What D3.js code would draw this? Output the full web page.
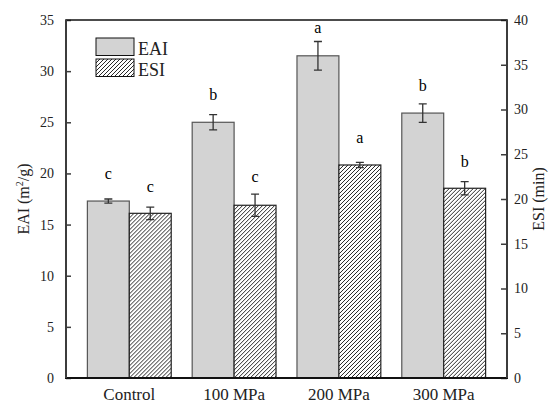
<!DOCTYPE html>
<html>
<head>
<meta charset="utf-8">
<script src="https://cdn.jsdelivr.net/npm/d3@7"></script>
<style>
  body { margin: 0; background: #fff; }
  svg { display: block; }
  svg text { font-family: "Liberation Serif", "Times New Roman", serif; }
</style>
</head>
<body>
<svg id="chart" width="558" height="403"></svg>
<script>
// --- Data ---------------------------------------------------------------
const categories = ['Control', '100 MPa', '200 MPa', '300 MPa'];
const eai = [17.3, 25.0, 31.5, 25.9];        // m2/g, left axis
const eaiErr = [0.2, 0.75, 1.4, 0.9];
const esi = [18.4, 19.3, 23.8, 21.2];        // min, right axis
const esiErr = [0.7, 1.25, 0.3, 0.75];
const eaiLetters = ['c', 'b', 'a', 'b'];
const esiLetters = ['c', 'c', 'a', 'b'];
// letter baselines, in each axis' own units
const eaiLetterAt = [19.45, 27.2, 33.7, 28.1];
const esiLetterAt = [20.8, 21.9, 26.3, 23.6];
const leftTicks = d3.range(0, 36, 5);
const rightTicks = d3.range(0, 41, 5);

// --- Layout -------------------------------------------------------------
const pl = 66, pr = 507, pt = 20, pb = 378;
const serif = '"Liberation Serif", "Times New Roman", serif';
const svg = d3.select('#chart');

const x0 = d3.scaleBand().domain(categories).range([pl, pr])
  .paddingInner(0.2).paddingOuter(0.204);
const x1 = d3.scaleBand().domain(['EAI', 'ESI']).range([0, x0.bandwidth()]);
const yL = d3.scaleLinear().domain([0, 35]).range([pb, pt]);
const yR = d3.scaleLinear().domain([0, 40]).range([pb, pt]);

// hatch pattern for ESI
svg.append('defs').append('pattern')
  .attr('id', 'hatch')
  .attr('patternUnits', 'userSpaceOnUse')
  .attr('width', 4).attr('height', 4)
  .call(p => p.append('rect').attr('width', 4).attr('height', 4).attr('fill', '#fff'))
  .append('path')
  .attr('d', 'M-1,1 l2,-2 M0,4 l4,-4 M3,5 l2,-2')
  .attr('stroke', '#111').attr('stroke-width', 0.9);

// --- Bars ---------------------------------------------------------------
const rows = categories.map((c, i) => ({
  c, eai: eai[i], eaiErr: eaiErr[i], esi: esi[i], esiErr: esiErr[i],
  eaiL: eaiLetters[i], esiL: esiLetters[i], eaiLy: eaiLetterAt[i], esiLy: esiLetterAt[i]
}));

const grp = svg.append('g').selectAll('g').data(rows).join('g')
  .attr('transform', d => `translate(${x0(d.c)},0)`);

grp.append('rect')
  .attr('x', x1('EAI')).attr('width', x1.bandwidth())
  .attr('y', d => yL(d.eai)).attr('height', d => yL(0) - yL(d.eai))
  .attr('fill', '#d3d3d3').attr('stroke', '#555').attr('stroke-width', 1.2);

grp.append('rect')
  .attr('x', x1('ESI')).attr('width', x1.bandwidth())
  .attr('y', d => yR(d.esi)).attr('height', d => yR(0) - yR(d.esi))
  .attr('fill', 'url(#hatch)').attr('stroke', '#222').attr('stroke-width', 1.2);

// error bars
function errBar(sel, cx, yTop, yBot) {
  const w = 4;
  sel.append('path')
    .attr('d', d => `M${cx - w},${yTop(d)}H${cx + w}M${cx},${yTop(d)}V${yBot(d)}M${cx - w},${yBot(d)}H${cx + w}`)
    .attr('fill', 'none').attr('stroke', '#333').attr('stroke-width', 1.3);
}
const cEAI = x1('EAI') + x1.bandwidth() / 2;
const cESI = x1('ESI') + x1.bandwidth() / 2;
errBar(grp, cEAI, d => yL(d.eai + d.eaiErr), d => yL(d.eai - d.eaiErr));
errBar(grp, cESI, d => yR(d.esi + d.esiErr), d => yR(d.esi - d.esiErr));

grp.append('text')
  .attr('x', cEAI).attr('y', d => yL(d.eaiLy))
  .attr('text-anchor', 'middle').attr('font-family', serif).attr('font-size', 16).text(d => d.eaiL);
grp.append('text')
  .attr('x', cESI).attr('y', d => yR(d.esiLy))
  .attr('text-anchor', 'middle').attr('font-family', serif).attr('font-size', 16).text(d => d.esiL);

// --- Axes ---------------------------------------------------------------
const axisColor = '#3c3c3c';

const gL = svg.append('g').attr('transform', `translate(${pl},0)`)
  .call(d3.axisLeft(yL).tickValues(leftTicks).tickSizeInner(-5).tickSizeOuter(0).tickPadding(12));
const gR = svg.append('g').attr('transform', `translate(${pr},0)`)
  .call(d3.axisRight(yR).tickValues(rightTicks).tickSizeInner(-6).tickSizeOuter(0).tickPadding(7));

[gL, gR].forEach(g => {
  g.attr('font-family', serif).attr('font-size', 14);
  g.select('.domain').remove();
  g.selectAll('.tick line').attr('stroke', axisColor).attr('stroke-width', 1.5);
  g.selectAll('.tick text').attr('font-family', serif).attr('font-size', 14).attr('fill', '#222');
});

// frame
svg.append('line').attr('x1', pl).attr('x2', pr).attr('y1', pt).attr('y2', pt)
  .attr('stroke', '#111').attr('stroke-width', 1.5);
svg.append('line').attr('x1', pl - 1).attr('x2', pr + 1).attr('y1', pb).attr('y2', pb)
  .attr('stroke', '#111').attr('stroke-width', 2);
svg.append('line').attr('x1', pl).attr('x2', pl).attr('y1', pt - 0.75).attr('y2', pb)
  .attr('stroke', axisColor).attr('stroke-width', 2);
svg.append('line').attr('x1', pr).attr('x2', pr).attr('y1', pt - 0.75).attr('y2', pb)
  .attr('stroke', axisColor).attr('stroke-width', 2);

// category labels
svg.append('g').selectAll('text').data(categories).join('text')
  .attr('x', d => x0(d) + x0.bandwidth() / 2).attr('y', 400)
  .attr('text-anchor', 'middle').attr('font-family', serif).attr('font-size', 17).attr('fill', '#222')
  .text(d => d);

// axis titles
const tL = svg.append('text')
  .attr('transform', `translate(29,${(pt + pb) / 2}) rotate(-90)`)
  .attr('text-anchor', 'middle').attr('font-family', serif).attr('font-size', 16).attr('fill', '#222');
tL.append('tspan').text('EAI (m');
tL.append('tspan').attr('font-size', 10).attr('dy', -6).text('2');
tL.append('tspan').attr('dy', 6).text('/g)');

svg.append('text')
  .attr('transform', `translate(544,${(pt + pb) / 2}) rotate(-90)`)
  .attr('text-anchor', 'middle').attr('font-family', serif).attr('font-size', 16).attr('fill', '#222')
  .text('ESI (min)');

// --- Legend -------------------------------------------------------------
const legend = svg.append('g').attr('transform', 'translate(96,38)');
const legItems = [{ k: 'EAI', fill: '#d3d3d3' }, { k: 'ESI', fill: 'url(#hatch)' }];
const li = legend.selectAll('g').data(legItems).join('g')
  .attr('transform', (d, i) => `translate(0,${i * 21})`);
li.append('rect').attr('width', 38).attr('height', 17.5)
  .attr('fill', d => d.fill).attr('stroke', '#111').attr('stroke-width', 1);
li.append('text').attr('x', 42).attr('y', 16.5).attr('font-family', serif).attr('font-size', 18).attr('fill', '#222')
  .text(d => d.k);
</script>
</body>
</html>
